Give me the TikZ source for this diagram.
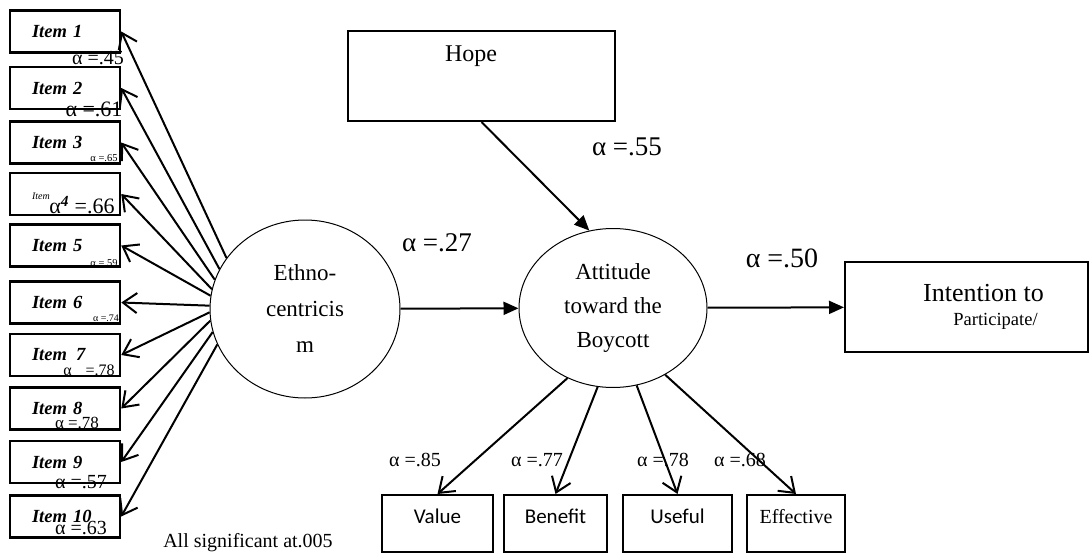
\documentclass[tikz,border=0pt]{standalone}
\usepackage{fontspec}
\setmainfont{Liberation Serif}
\newfontfamily\carlito{Carlito}
\usepackage{tikz}
\usetikzlibrary{shapes.geometric,arrows.meta}
\newcommand{\fsz}[1]{\fontsize{#1}{#1}\selectfont}

\tikzset{
  itembox/.style={draw, line width=2.5pt, minimum height=42pt, text width=66pt, inner xsep=22pt, inner ysep=0pt, align=left, font=\fsz{18.5}\bfseries\itshape},
  alph/.style={inner sep=0pt},
  latent/.style={draw, ellipse, line width=1pt, inner sep=0pt, align=center},
  obsbox/.style={draw, line width=2pt, minimum height=57pt, inner sep=0pt, text depth=14pt},
  loadarrow/.style={line width=2pt, -{Straight Barb[length=14pt,width=20pt]}},
  regpath/.style={line width=2pt, -{Triangle[length=15pt,width=13pt]}},
}

\begin{document}
\begin{tikzpicture}[x=1pt, y=-1pt]
\useasboundingbox (0,0) rectangle (1091,559);

% items of the scale
\node[itembox] (item1) at (65,31.5) {Item 1};
\node[itembox] (item2) at (65,88) {Item 2};
\node[itembox] (item3) at (65,142.5) {Item 3};
\node[itembox] (item4) at (65,194) {\fsz{10}\mdseries\raisebox{-12pt}{Item}};
\node[itembox] (item5) at (65,245.5) {Item 5};
\node[itembox] (item6) at (65,302.5) {Item 6};
\node[itembox] (item7) at (65,355) {Item\, 7};
\node[itembox] (item8) at (65,408.5) {Item 8};
\node[itembox] (item9) at (65,462) {Item 9};
\node[itembox] (item10) at (65,516.5) {Item 10};

% alphas under the items
\node[alph, font=\fsz{20}] (a1) at (98,58) {α =.45};
\node[alph, font=\fsz{22}] (a2) at (94,109) {α =.61};
\node[alph, font=\fsz{10.5}] (a3) at (104,158) {α =.65};
\node[alph, font=\fsz{22}] (a4) at (82,205) {α\textsuperscript{\bfseries\itshape 4} =.66};
\node[alph, font=\fsz{10.5}] (a5) at (104,263) {α =.59};
\node[alph, font=\fsz{10}] (a6) at (106,318) {α =.74};
\node[alph, font=\fsz{16}] (a7) at (89,370) {α\hspace{14pt}=.78};
\node[alph, font=\fsz{17}] (a8) at (77,423) {α =.78};
\node[alph, font=\fsz{20}] (a9) at (81,482) {α =.57};
\node[alph, font=\fsz{20}] (a10) at (81,528) {α =.63};

% latent variables
\node[latent, minimum width=190pt, minimum height=178pt, font=\fontsize{23}{36}\selectfont] (ethno) at (305,309) {Ethno-\\centricis\\m};
\node[latent, minimum width=188pt, minimum height=159pt, font=\fontsize{23}{34}\selectfont] (attitude) at (613,308) {Attitude\\toward the\\Boycott};

\node[draw, line width=2pt, minimum width=267pt, minimum height=90pt, inner sep=0pt, text depth=44pt, font=\fsz{24}] (hope) at (481.5,76) {Hope\hspace*{21pt}};
\node[draw, line width=2pt, minimum width=243pt, minimum height=90pt, align=center, font=\fsz{26}] (intent) at (966.5,307) {\hspace*{34pt}Intention to\\[-2pt]{\fsz{18.5}\hspace*{58pt}Participate/}};

% indicators of the attitude
\node[obsbox, minimum width=111pt, font=\carlito\fsz{21}] (value) at (437.5,523.5) {Value};
\node[obsbox, minimum width=103pt, font=\carlito\fsz{21}] (benefit) at (555.5,523.5) {Benefit};
\node[obsbox, minimum width=109pt, font=\carlito\fsz{21}] (useful) at (677.5,523.5) {Useful};
\node[obsbox, minimum width=98pt, font=\fsz{20}] (effective) at (796,523.5) {Effective};

% path values
\node[alph, font=\fsz{27}] (b27) at (437,243) {α =.27};
\node[alph, font=\fsz{27}] (b55) at (627,147) {α =.55};
\node[alph, font=\fsz{28}] (b50) at (782,258) {α =.50};
\node[alph, font=\fsz{20}] (c85) at (415,460) {α =.85};
\node[alph, font=\fsz{20}] (c77) at (537,460) {α =.77};
\node[alph, font=\fsz{20}] (c78) at (663,460) {α =.78};
\node[alph, font=\fsz{20}] (c68) at (740,460) {α =.68};
\node[alph, font=\fsz{20}] (note) at (248,543) {All significant at.005};

% loadings
\draw[loadarrow] (ethno.147) -- (item1.east);
\draw[loadarrow] (ethno.155) -- (item2.east);
\draw[loadarrow] (ethno.162) -- (item3.east);
\draw[loadarrow] (ethno.168) -- (item4.east);
\draw[loadarrow] (ethno.172) -- (item5.east);
\draw[loadarrow] (ethno.178) -- (item6.east);
\draw[loadarrow] (ethno.182) -- (item7.east);
\draw[loadarrow] (ethno.187) -- (item8.east);
\draw[loadarrow] (ethno.194) -- (item9.east);
\draw[loadarrow] (ethno.202) -- (item10.east);

\draw[loadarrow] (attitude.237) -- (value.north);
\draw[loadarrow] (attitude.259) -- (benefit.north);
\draw[loadarrow] (attitude.287) -- (useful.north);
\draw[loadarrow] (attitude.308) -- (effective.north);

% structural paths
\draw[regpath] (hope.south) -- (attitude.107);
\draw[regpath] (ethno) -- (attitude);
\draw[regpath] (attitude) -- (intent);
\end{tikzpicture}
\end{document}
